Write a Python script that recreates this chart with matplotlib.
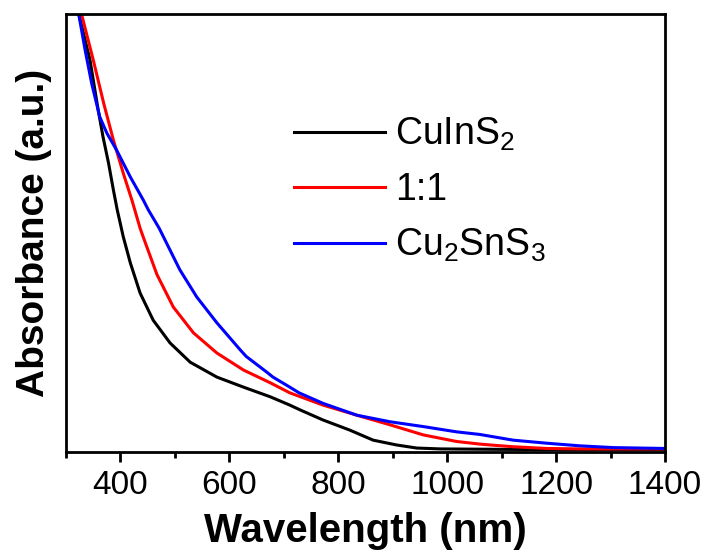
import matplotlib
matplotlib.use("Agg")
from matplotlib import pyplot as plt
from matplotlib.ticker import MultipleLocator

plt.rcParams['font.family'] = ['Liberation Sans', 'DejaVu Sans']
plt.rcParams['mathtext.fontset'] = 'custom'
plt.rcParams['mathtext.rm'] = 'Liberation Sans'
plt.rcParams['mathtext.it'] = 'Liberation Sans:italic'

# absorbance (a.u.)
wl_cis = [312, 323, 344, 359, 368, 378, 387, 394, 405, 418, 436, 460, 491, 528, 577,
          626, 675, 711, 730, 772, 821, 864, 907, 944, 987, 1100, 1250, 1400]
abs_cis = [1.058, 1.002, 0.895, 0.781, 0.719, 0.660, 0.598, 0.553, 0.492, 0.432, 0.363,
           0.301, 0.249, 0.205, 0.171, 0.148, 0.126, 0.107, 0.096, 0.073, 0.050, 0.027,
           0.016, 0.009, 0.007, 0.006, 0.005, 0.005]

wl_mix = [312, 328, 350, 369, 387, 405, 421, 436, 442, 467, 497, 534, 577, 626, 675,
          711, 772, 834, 895, 956, 1017, 1060, 1079, 1121, 1183, 1244, 1400]
abs_mix = [1.080, 1.002, 0.895, 0.797, 0.712, 0.637, 0.575, 0.511, 0.490, 0.405, 0.331,
           0.272, 0.226, 0.187, 0.158, 0.135, 0.107, 0.084, 0.062, 0.039, 0.024, 0.018,
           0.016, 0.012, 0.008, 0.007, 0.007]

wl_cts = [314, 323, 335, 347, 362, 375, 393, 418, 442, 451, 471, 479, 509, 540, 577,
          620, 631, 669, 680, 711, 728, 772, 834, 895, 956, 1017, 1060, 1121, 1183, 1244,
          1305, 1400]
abs_cts = [1.066, 1.002, 0.918, 0.842, 0.765, 0.728, 0.689, 0.628, 0.575, 0.553, 0.511,
           0.491, 0.416, 0.354, 0.295, 0.233, 0.218, 0.182, 0.171, 0.148, 0.135, 0.111,
           0.084, 0.069, 0.058, 0.046, 0.040, 0.027, 0.020, 0.014, 0.010, 0.008]

labels = ['CuInS$_2$', '1:1', 'Cu$_2$SnS$_3$']

fig = plt.figure(figsize=(7.07, 5.52), dpi=100)
ax = fig.add_axes([0.0934, 0.1812, 0.8472, 0.7934])

ax.plot(wl_cis, abs_cis, color='black', linewidth=2.2, label=labels[0])
ax.plot(wl_mix, abs_mix, color='red', linewidth=2.2, label=labels[1])
ax.plot(wl_cts, abs_cts, color='blue', linewidth=2.2, label=labels[2])

ax.set_xlim(300, 1400)
ax.set_ylim(0, 1)
ax.set_yticks([])
ax.xaxis.set_major_locator(MultipleLocator(200))
ax.xaxis.set_minor_locator(MultipleLocator(100))
ax.tick_params(axis='x', which='major', direction='out', length=7, width=2,
               labelsize=24, pad=6)
ax.tick_params(axis='x', which='minor', direction='out', length=4, width=2)
for s in ax.spines.values():
    s.set_linewidth(2)

ax.set_xlabel('Wavelength (nm)', fontsize=29, fontweight='bold', labelpad=8)
ax.set_ylabel('Absorbance (a.u.)', fontsize=28, fontweight='bold', labelpad=10)

ax.legend(loc='upper left', bbox_to_anchor=(0.38, 0.767), frameon=False, fontsize=27,
          handlelength=2.43, handletextpad=0.27, labelspacing=0.5, borderpad=0,
          borderaxespad=0)

fig.savefig('out.png', dpi=100)
